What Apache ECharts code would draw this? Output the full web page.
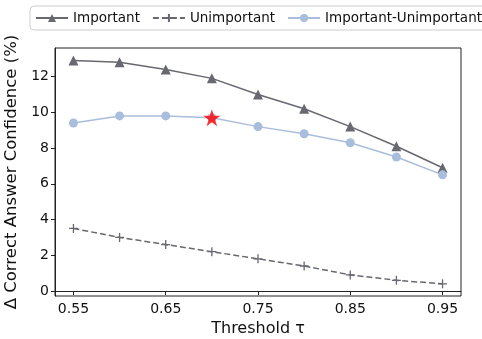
<!DOCTYPE html>
<html>
<head>
<meta charset="utf-8">
<script src="https://cdn.jsdelivr.net/npm/echarts@6/dist/echarts.min.js"></script>
<style>
  html, body { margin: 0; padding: 0; background: #fff; }
  #chart { width: 482px; height: 339px; }
</style>
</head>
<body>
<div id="chart"></div>
<script>
  // thresholds on the x axis
  var thresholds = [0.55, 0.60, 0.65, 0.70, 0.75, 0.80, 0.85, 0.90, 0.95]
  var important = [12.9, 12.8, 12.4, 11.9, 11.0, 10.2, 9.2, 8.1, 6.9]
  var unimportant = [3.5, 3.0, 2.6, 2.2, 1.8, 1.4, 0.9, 0.6, 0.4]
  var diff = [9.4, 9.8, 9.8, 9.7, 9.2, 8.8, 8.3, 7.5, 6.5]
  var xTicks = [0.55, 0.65, 0.75, 0.85, 0.95]
  var yTicks = [0, 2, 4, 6, 8, 10, 12]
  var bestPoint = [0.70, 9.7]

  function pairs(vals) {
    return thresholds.map(function (t, i) { return [t, vals[i]] })
  }

  var font = 'DejaVu Sans'
  var chart = echarts.init(document.getElementById('chart'))
  var option = {
    animation: false,
    textStyle: { fontFamily: font },
    grid: { left: 55, right: 21, top: 48, bottom: 43, show: true, borderColor: '#222', borderWidth: 1,
      outerBoundsMode: 'none' },
    legend: {
      top: 6, left: 30, width: 600,
      padding: [5, 5],
      borderColor: '#ccc', borderWidth: 1, borderRadius: 4,
      itemWidth: 32, itemHeight: 10, itemGap: 12,
      textStyle: { fontSize: 13.5, color: '#111' },
      data: ['Important', 'Unimportant', 'Important-Unimportant']
    },
    xAxis: {
      type: 'value', min: 0.53, max: 0.97,
      name: 'Threshold τ', nameLocation: 'middle', nameGap: 24,
      nameTextStyle: { fontSize: 16, color: '#111' },
      splitLine: { show: false },
      axisLine: { lineStyle: { color: '#222' } },
      axisTick: { show: true, length: 4, customValues: xTicks, lineStyle: { color: '#222' } },
      axisLabel: { customValues: xTicks, fontSize: 14, color: '#111', margin: 6,
        formatter: function (v) { return v.toFixed(2) } }
    },
    yAxis: {
      type: 'value', min: -0.28, max: 13.6,
      name: 'Δ Correct Answer Confidence (%)', nameLocation: 'middle', nameGap: 33,
      nameTextStyle: { fontSize: 16.5, color: '#111' },
      splitLine: { show: false },
      axisLine: { show: true, lineStyle: { color: '#222' } },
      axisTick: { show: true, length: 4, customValues: yTicks, lineStyle: { color: '#222' } },
      axisLabel: { customValues: yTicks, fontSize: 14, color: '#111', margin: 6 }
    },
    series: [{
      name: 'Important', type: 'line',
      data: pairs(important),
      symbol: 'triangle', symbolSize: 10,
      itemStyle: { color: '#676870' },
      lineStyle: { color: '#676870', width: 1.5 }
    }, {
      name: 'Unimportant', type: 'line',
      data: pairs(unimportant),
      symbol: 'path://M0,5L10,5M5,0L5,10', symbolSize: 9,
      itemStyle: { color: 'none', borderColor: '#676870', borderWidth: 1.3 },
      lineStyle: { color: '#676870', width: 1.5, type: [6, 3] }
    }, {
      name: 'Important-Unimportant', type: 'line',
      data: pairs(diff),
      symbol: 'circle', symbolSize: 9,
      itemStyle: { color: '#a9bddc' },
      lineStyle: { color: '#a9bddc', width: 1.5 }
    }, {
      name: 'best', type: 'scatter',
      data: [bestPoint],
      symbol: 'path://M50,0L61.8,35.4L99,35.4L69,57.3L80.4,92.7L50,70.8L19.6,92.7L31,57.3L1,35.4L38.2,35.4Z',
      symbolSize: 17,
      itemStyle: { color: '#ff0000' },
      z: 5
    }]
  }
  chart.setOption(option)
</script>
</body>
</html>
